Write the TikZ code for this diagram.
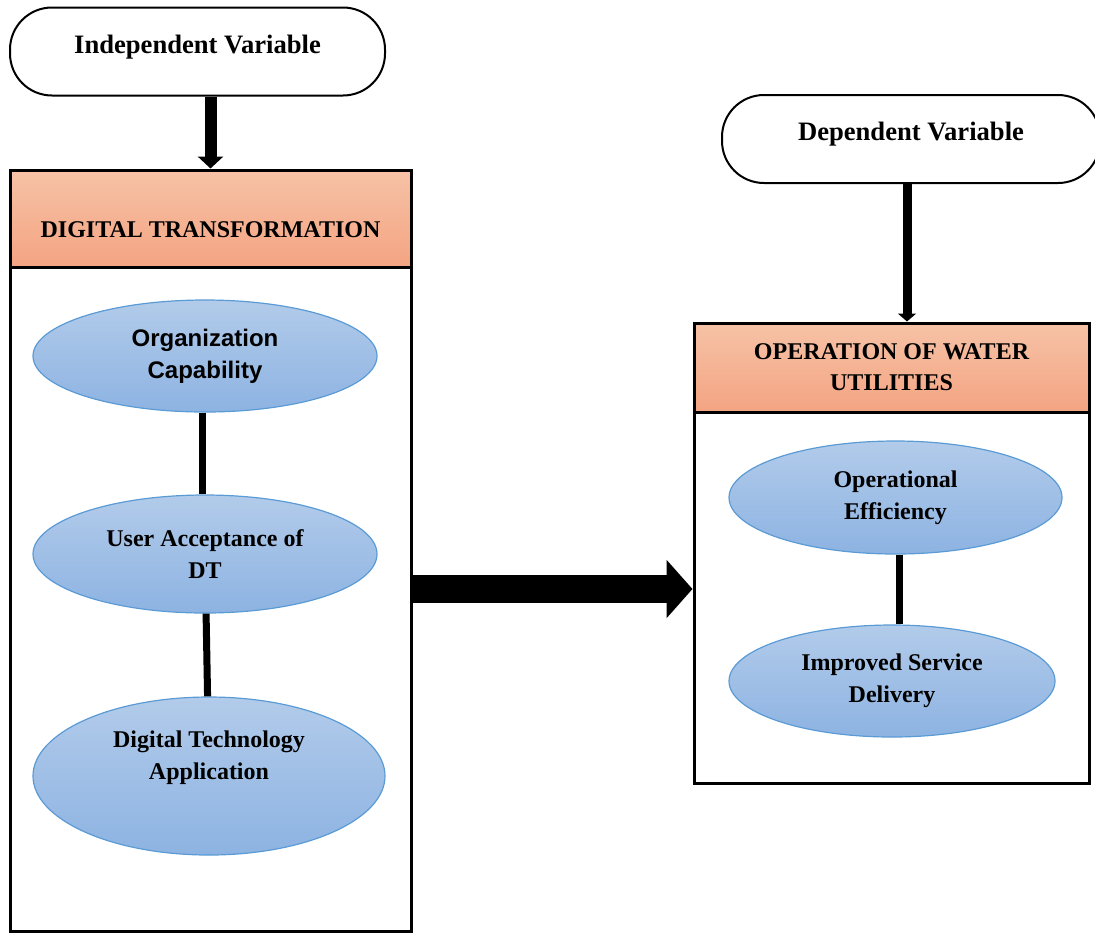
\documentclass[tikz,border=0pt]{standalone}
\usepackage{fontspec}
\setmainfont{Liberation Serif}
\newfontfamily\arialfont{Liberation Sans}
\usetikzlibrary{arrows.meta,shapes.geometric}

\definecolor{headtop}{HTML}{F6C2A6}
\definecolor{headbot}{HTML}{F4A482}
\definecolor{factortop}{HTML}{B2CBEA}
\definecolor{factorbot}{HTML}{8DB3E2}
\definecolor{factorline}{HTML}{5B9BD5}

\tikzset{
  varbox/.style={draw, line width=1pt, rounded corners=21pt,
    minimum width=#1, minimum height=44pt, text height=9pt, text depth=7.5pt,
    font=\fontsize{13.3}{16}\selectfont\bfseries},
  headbox/.style={draw, line width=1.5pt, top color=headtop,
    bottom color=headbot, minimum width=#1, align=center,
    font=\fontsize{12}{15.5}\selectfont\bfseries},
  bodybox/.style={draw, line width=1.5pt, minimum width=#1},
  factor/.style={ellipse, draw=factorline, line width=0.6pt,
    top color=factortop, bottom color=factorbot, align=center,
    inner sep=0pt, font=\fontsize{12}{16}\selectfont\bfseries},
  joint/.style={line width=3.5pt},
}

\begin{document}
\begin{tikzpicture}[x=0.5pt,y=-0.5pt]
    \useasboundingbox (0,0) rectangle (1095,933);
    % variables
    \node [varbox=187.5pt] (indep) at (197.5,51.5) {Independent Variable};
    \node [varbox=189pt] (dep) at (911,139) {Dependent Variable};
    % digital transformation
    \node [bodybox=200.5pt, minimum height=332pt] (dtbody) at (210.5,599) {};
    \node [headbox=200.5pt, minimum height=48.5pt, text height=18.5pt,
      text depth=0pt] (dthead) at (210.5,218.5) {DIGITAL TRANSFORMATION};
    \node [factor, minimum width=172pt, minimum height=56pt] (orgcap) at (205,356)
      {\arialfont Organization\\\arialfont Capability};
    \node [factor, minimum width=172pt, minimum height=59pt] (useracc) at (205,554)
      {User Acceptance of\\DT};
    \node [factor, minimum width=176pt, minimum height=79pt] (dtapp) at (209,776) {};
    \node [align=center, font=\fontsize{12}{16}\selectfont\bfseries]
      (dtapptext) at (209,758) {Digital Technology\\Application};
    % operation of water utilities
    \node [bodybox=197.5pt, minimum height=185.5pt] (opbody) at (891.5,597.5) {};
    \node [headbox=197.5pt, minimum height=44.5pt] (ophead) at (891.5,367.5)
      {OPERATION OF WATER\\UTILITIES};
    \node [factor, minimum width=166.5pt, minimum height=56.5pt] (opeff) at (895.5,497.5)
      {Operational\\Efficiency};
    \node [factor, minimum width=163pt, minimum height=56pt] (service) at (892,681)
      {Improved Service\\Delivery};
      \draw [line width=6pt, -{Triangle[width=12.5pt,length=6pt]}]
        (indep.south -| dthead.north) -- (dthead.north);
      \draw [line width=4.5pt, -{Triangle[width=9pt,length=4pt]}]
        ([xshift=-2pt]dep.south) -- ([xshift=-2pt]dep.south |- ophead.north);
      \draw [joint] ([xshift=-1.5pt]orgcap.south) -- ([xshift=-1.5pt]orgcap.south |- useracc.north);
      \draw [joint] (useracc) -- (dtapp);
      \draw [joint] ([xshift=2pt]opeff.south) -- ([xshift=2pt]opeff.south |- service.north);
      \coordinate (mid) at (411,589);
      \draw [line width=14pt, -{Triangle[width=28.5pt,length=13pt]}]
        (dtbody.east |- mid) -- (opbody.west |- mid);
  \end{tikzpicture}
\end{document}
